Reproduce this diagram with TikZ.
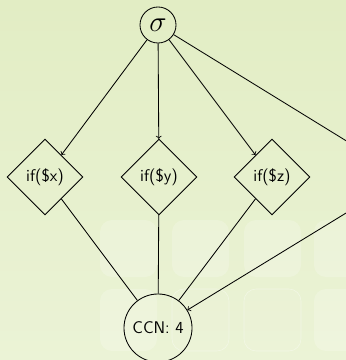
\documentclass[tikz,border=0pt]{standalone}
\usepackage{tikz}
\usetikzlibrary{shapes.geometric, positioning}
\definecolor{slidebg}{RGB}{226,237,196}
\definecolor{slidebglight}{RGB}{235,243,214}

\begin{document}
\begin{tikzpicture}[x=0.025cm, y=-0.025cm,
    state/.style={circle, draw, inner sep=0pt, line width=0.6pt},
    branch/.style={diamond, draw, aspect=1, minimum size=1.9cm, inner sep=0pt,
        line width=0.6pt, font=\sffamily\fontsize{12}{14}\selectfont},
    tile/.style={rounded corners=0.3cm, fill=white, fill opacity=0.2},
    tileline/.style={rounded corners=0.3cm, draw=white, draw opacity=0.4,
        fill=white, fill opacity=0.06},
    flow/.style={->, line width=0.6pt}]

    % Frame and slide background
    \clip (0,0) rectangle (346,360);
    \shade[top color=slidebg, bottom color=slidebglight] (0,0) rectangle (346,360);

    % Background tiles
    \foreach \x in {100,172,244,314} {
        \path[tile] (\x,220) rectangle ++(57,57);
    }
    \path[tile] (100,289) rectangle ++(57,62);
    \path[tileline] (172,289) rectangle ++(57,62);
    \path[tileline] (244,289) rectangle ++(57,62);
    \path[tile] (314,289) rectangle ++(57,62);

    % Nodes
    \node[state, minimum size=0.9cm, font=\fontsize{20}{22}\selectfont] (sigma) at (158,25) {$\sigma$};
    \node[branch] (ifx) at (45,177) {if(\$x)};
    \node[branch] (ify) at (159,177) {if(\$y)};
    \node[branch] (ifz) at (272,177) {if(\$z)};
    \coordinate (ifw) at (405,177);
    \node[state, minimum size=1.7cm, font=\sffamily\fontsize{12}{14}\selectfont] (ccn) at (158,328) {CCN: 4};

    % Edges out of sigma
    \draw[flow] (sigma) -- (ifx);
    \draw[flow] (sigma) -- (ify);
    \draw[flow] (sigma) -- (ifz);
    \draw[flow] (sigma) -- (ifw);

    % Edges into the count
    \draw[line width=0.6pt] (ifx) -- (ccn);
    \draw[line width=0.6pt] (ify) -- (ccn);
    \draw[line width=0.6pt] (ifz) -- (ccn);
    \draw[flow] (ifw) -- (ccn);

\end{tikzpicture}
\end{document}
